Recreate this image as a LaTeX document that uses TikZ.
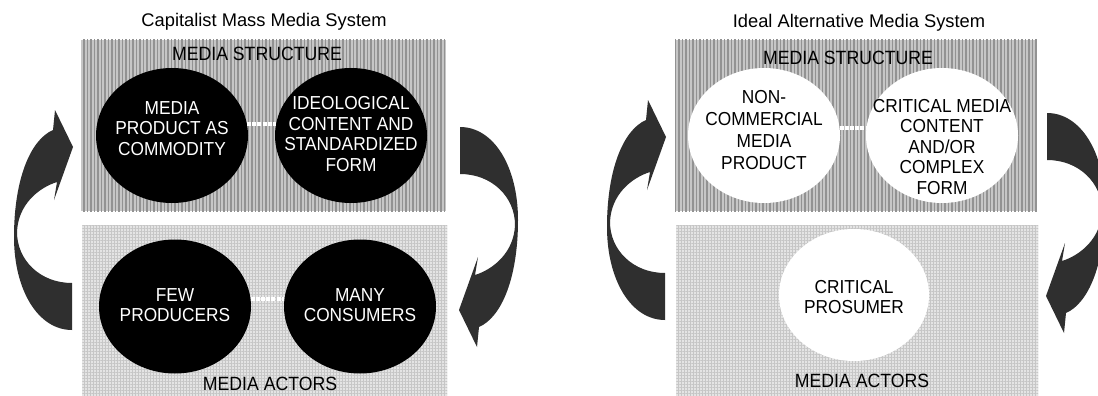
\documentclass[tikz,border=0pt]{standalone}
\usepackage{fontspec}
\setmainfont{Liberation Sans}
\newfontfamily\condfont{Liberation Sans}[FakeStretch=0.92]
\usetikzlibrary{shapes.geometric,patterns.meta}
\definecolor{arrowgray}{HTML}{2F2F2F}
\definecolor{topbase}{HTML}{C6C6C6}
\definecolor{topline}{HTML}{929292}
\definecolor{botbase}{HTML}{E4E4E4}
\definecolor{botline}{HTML}{C6C6C6}
\tikzset{
  carrow/.pic={
    \fill[arrowgray] (0,0) .. controls (-34,0) and (-58,-40) .. (-58,-93)
      .. controls (-58,-150) and (-42,-190) .. (-19,-200)
      -- (-17,-220) -- (1,-183) -- (-18,-130) -- (-15,-148)
      .. controls (-34,-142) and (-54,-125) .. (-55,-98)
      .. controls (-55,-70) and (-32,-47) .. (0,-47) -- cycle;
  },
  blackell/.style={ellipse, fill=black, draw=none, minimum width=152pt, minimum height=135pt, inner sep=0pt},
  whiteell/.style={ellipse, fill=white, draw=none, minimum width=152pt, minimum height=135pt, inner sep=0pt},
  elltext/.style={align=center, inner sep=0pt, font=\condfont\fontsize{18.8}{20.5}\selectfont},
  boxlabel/.style={inner sep=0pt, font=\condfont\fontsize{19.2}{20}\selectfont},
  titletext/.style={inner sep=0pt, font=\fontsize{18.3}{20}\selectfont},
  link/.style={draw=white, line width=4pt, dash pattern=on 4pt off 1.2pt},
}
\begin{document}
\begin{tikzpicture}[x=1pt,y=-1pt]
\useasboundingbox (0,0) rectangle (1098,396);
\fill[white] (0,0) rectangle (1098,396);

% ---------- left panel ----------
\node[titletext] (t1) at (264,22) {Capitalist Mass Media System};
\fill[topbase] (81,40) rectangle (446,211);
\fill[pattern={Lines[angle=90,distance=3.5pt,line width=1.3pt]}, pattern color=topline] (81,40) rectangle (446,211);
\fill[botbase] (82,225) rectangle (447,396);
\fill[pattern={Lines[angle=0,distance=3pt,line width=0.9pt]}, pattern color=botline] (82,225) rectangle (447,396);
\fill[pattern={Lines[angle=90,distance=3pt,line width=0.9pt]}, pattern color=botline] (82,225) rectangle (447,396);

\node[boxlabel] (ms1) at (257,54) {MEDIA STRUCTURE};
\node[boxlabel] (ma1) at (270,384) {MEDIA ACTORS};

\node[blackell] (e1) at (172,135.5) {};
\node[blackell] (e2) at (351,135.5) {};
\node[blackell, minimum height=134pt] (e3) at (175,306.5) {};
\node[blackell, minimum height=134pt] (e4) at (360,306.5) {};
\node[elltext, text=white] at ([yshift=7pt]e1) {MEDIA\\PRODUCT AS\\COMMODITY};
\node[elltext, text=white] at ([yshift=1.5pt]e2) {IDEOLOGICAL\\CONTENT AND\\STANDARDIZED\\FORM};
\node[elltext, text=white] at ([yshift=1.5pt]e3) {FEW\\PRODUCERS};
\node[elltext, text=white] at ([yshift=1.5pt]e4) {MANY\\CONSUMERS};
\draw[link] (e1.9) -- (e2.171);
\draw[link] (e3.6) -- (e4.174);

\pic at (72,330) {carrow};
\pic[rotate=180] at (460,127) {carrow};

% ---------- right panel ----------
\node[titletext] (t2) at (859,23) {Ideal Alternative Media System};
\fill[topbase] (675,40) rectangle (1037,211);
\fill[pattern={Lines[angle=90,distance=3.5pt,line width=1.3pt]}, pattern color=topline] (675,40) rectangle (1037,211);
\fill[botbase] (676,225) rectangle (1038,396);
\fill[pattern={Lines[angle=0,distance=3pt,line width=0.9pt]}, pattern color=botline] (676,225) rectangle (1038,396);
\fill[pattern={Lines[angle=90,distance=3pt,line width=0.9pt]}, pattern color=botline] (676,225) rectangle (1038,396);

\node[boxlabel] (ms2) at (848,58) {MEDIA STRUCTURE};
\node[boxlabel] (ma2) at (862,381) {MEDIA ACTORS};

\node[whiteell] (e5) at (764,135.5) {};
\node[whiteell] (e6) at (942,135.5) {};
\node[whiteell, minimum width=150pt, minimum height=132pt] (e7) at (854,295) {};
\node[elltext, font=\condfont\fontsize{18.8}{22}\selectfont] at ([yshift=5.5pt]e5) {NON-\\COMMERCIAL\\MEDIA\\PRODUCT};
\node[elltext] at ([yshift=-11.5pt]e6) {CRITICAL MEDIA\\CONTENT\\AND/OR\\COMPLEX\\FORM};
\node[elltext] at ([yshift=-2pt]e7) {CRITICAL\\PROSUMER};
\draw[link] (e5.6) -- (e6.174);

\pic at (665,320) {carrow};
\pic[rotate=180] at (1047,113) {carrow};
\end{tikzpicture}
\end{document}
